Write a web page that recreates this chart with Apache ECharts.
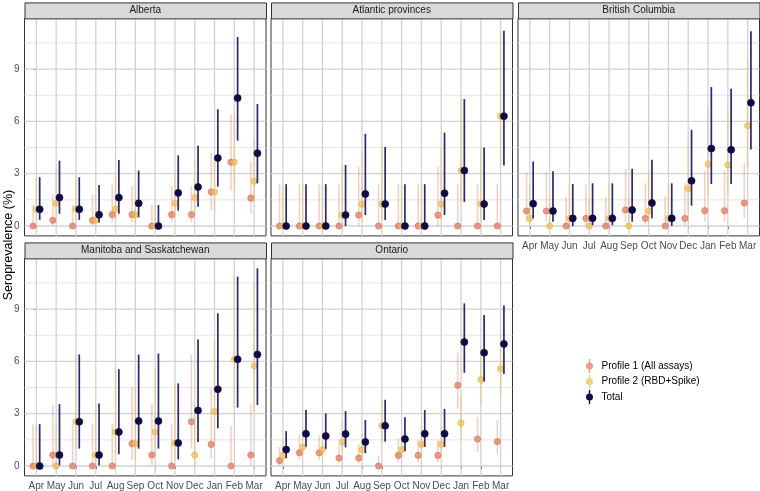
<!DOCTYPE html>
<html lang="en">
<head>
    <meta charset="UTF-8">
    <title>Seroprevalence</title>
    <style>
        html, body { margin: 0; padding: 0; background: #fff; }
        #main { width: 760px; height: 491px; }
    </style>
</head>
<body>
<div id="main"></div>
<script src="https://cdn.jsdelivr.net/npm/echarts@6/dist/echarts.min.js"></script>
<script>
    // months on the x axis
    const months = ['Apr', 'May', 'Jun', 'Jul', 'Aug', 'Sep', 'Oct', 'Nov', 'Dec', 'Jan', 'Feb', 'Mar'];
    const profiles = ['Profile 1 (All assays)', 'Profile 2 (RBD+Spike)', 'Total'];
    const yTicks = [0, 3, 6, 9];
    const yMinor = [1.5, 4.5, 7.5, 10.5];

    // each entry: [estimate, lower, upper] in %
    const albertaP1 = [[0,0,1.2],[0.33,0,1.8],[0,0,1.2],[0.33,0,1.8],[0.65,0.2,2.35],[0.65,0.2,2.3],
        [0,0,1.2],[0.65,0.2,2.3],[0.65,0.2,2.3],[1.95,0.9,4.2],[3.66,2.05,6.4],[1.6,0.7,3.7]];
    const albertaP2 = [[0.96,0.3,2.8],[1.3,0.5,3.3],[0.96,0.3,2.8],[0.33,0,1.8],[0.98,0.3,2.85],[0.65,0.2,2.3],
        [0,0,1.2],[1.3,0.5,3.2],[1.63,0.7,3.7],[1.95,0.85,4.0],[3.66,2.05,6.4],[2.57,1.35,5.0]];
    const albertaTotal = [[0.96,0.35,2.8],[1.63,0.7,3.75],[0.96,0.35,2.8],[0.65,0.2,2.35],[1.63,0.7,3.78],[1.3,0.5,3.18],
        [0,0,1.2],[1.9,0.88,4.05],[2.24,1.1,4.6],[3.9,2.26,6.7],[7.34,4.9,10.84],[4.18,2.45,7.0]];

    const atlanticP1 = [[0,0,2.4],[0,0,2.4],[0,0,2.4],[0,0,2.4],[0.63,0,3.4],[0,0,2.4],
        [0,0,2.4],[0,0,2.4],[0.63,0,3.4],[0,0,2.4],[0,0,2.4],[0,0,2.4]];
    const atlanticP2 = [[0,0,2.4],[0,0,2.4],[0,0,2.4],[0.63,0.02,3.54],[1.25,0.3,4.37],[1.26,0.35,4.5],
        [0,0,2.4],[0,0,2.4],[1.25,0.3,4.5],[3.18,1.38,7.28],[1.26,0.35,4.5],[6.3,3.5,11.23]];
    const atlanticTotal = [[0,0,2.4],[0,0,2.4],[0,0,2.4],[0.63,0,3.5],[1.84,0.63,5.29],[1.26,0.35,4.54],
        [0,0,2.4],[0,0,2.4],[1.88,0.63,5.35],[3.18,1.38,7.28],[1.26,0.35,4.5],[6.3,3.47,11.2]];

    const bcP1 = [[0.86,0.25,3.07],[0.86,0.25,3.12],[0,0,1.65],[0.44,0.05,2.4],[0,0,1.65],[0.92,0.25,3.28],
        [0.44,0.05,2.45],[0,0,1.7],[0.44,0.05,2.45],[0.88,0.25,3.18],[0.88,0.25,3.2],[1.32,0.45,3.6]];
    const bcP2 = [[0.44,0.05,2.4],[0,0,1.65],[0.44,0.05,2.4],[0,0,1.65],[0.44,0.05,2.45],[0,0,1.74],
        [0.86,0.2,3.1],[0.44,0.05,2.45],[2.15,0.85,4.94],[3.54,1.78,6.86],[3.5,1.8,6.82],[5.75,3.37,9.58]];
    const bcTotal = [[1.28,0.44,3.7],[0.86,0.25,3.14],[0.44,0,2.41],[0.44,0.05,2.45],[0.44,0.05,2.45],[0.92,0.25,3.28],
        [1.32,0.44,3.8],[0.44,0,2.45],[2.59,1.17,5.52],[4.44,2.41,7.97],[4.37,2.41,7.87],[7.07,4.39,11.17]];

    const manitobaP1 = [[0,0,2.39],[0.63,0,3.5],[0,0,2.4],[0,0,2.4],[0,0,2.4],[1.28,0.35,4.53],
        [0.63,0.05,3.55],[0,0,2.4],[2.54,1.0,6.4],[1.24,0.44,4.45],[0,0,2.29],[0.63,0.05,3.5]];
    const manitobaP2 = [[0,0,2.4],[0,0,2.4],[2.54,1.0,6.4],[0.63,0.05,3.55],[1.95,0.65,5.55],[1.28,0.35,4.53],
        [1.95,0.65,5.55],[1.32,0.35,4.74],[0.63,0.05,3.5],[3.13,1.3,7.13],[6.12,3.35,10.86],[5.75,3.06,10.57]];
    const manitobaTotal = [[0,0,2.4],[0.63,0.05,3.55],[2.54,1.0,6.4],[0.63,0.05,3.58],[1.95,0.67,5.55],[2.58,1.0,6.39],
        [2.58,1.0,6.45],[1.32,0.38,4.74],[3.19,1.38,7.25],[4.4,2.16,8.76],[6.12,3.35,10.86],[6.4,3.5,11.34]];

    const ontarioP1 = [[0.31,0.05,1.1],[0.76,0.34,1.78],[0.76,0.34,1.75],[0.46,0.15,1.2],[0.46,0.15,1.25],[0,0,0.6],
        [0.61,0.2,1.59],[0.61,0.2,1.5],[0.61,0.2,1.5],[4.63,3.27,6.5],[1.55,0.82,2.8],[1.4,0.69,2.64]];
    const ontarioP2 = [[0.61,0.2,1.5],[1.09,0.6,2.2],[0.94,0.5,1.95],[1.38,0.75,2.58],[0.94,0.45,1.85],[2.31,1.3,3.84],
        [0.94,0.45,1.85],[1.24,0.65,2.3],[1.24,0.65,2.3],[2.47,1.53,3.98],[4.95,3.5,6.88],[5.58,4.03,7.67]];
    const ontarioTotal = [[0.94,0.44,2.0],[1.85,1.11,3.21],[1.72,0.98,3.02],[1.84,1.07,3.15],[1.38,0.73,2.64],[2.31,1.4,3.8],
        [1.55,0.84,2.8],[1.85,1.1,3.21],[1.85,1.1,3.27],[7.11,5.35,9.33],[6.5,4.84,8.66],[7.0,5.28,9.2]];

    // facet layout (pixels)
    const PW = 241.5, PH = 217.5, STRIP = 16;
    const panels = [
        {name: 'Alberta', left: 24.5, top: 18.4, xLab: false, yLab: true, sets: [albertaP1, albertaP2, albertaTotal]},
        {name: 'Atlantic provinces', left: 271, top: 18.4, xLab: false, yLab: false, sets: [atlanticP1, atlanticP2, atlanticTotal]},
        {name: 'British Columbia', left: 518, top: 18.4, xLab: true, yLab: false, sets: [bcP1, bcP2, bcTotal]},
        {name: 'Manitoba and Saskatchewan', left: 24.5, top: 258.4, xLab: true, yLab: true, sets: [manitobaP1, manitobaP2, manitobaTotal]},
        {name: 'Ontario', left: 271, top: 258.4, xLab: true, yLab: false, sets: [ontarioP1, ontarioP2, ontarioTotal]}
    ];

    const FONT = 'Liberation Sans, Arial, Helvetica, sans-serif';
    const DODGE = [-1 / 6, 0, 1 / 6];
    const DOT = ['rgba(225,120,90,0.72)', 'rgba(240,190,80,0.72)', '#0e0b47'];
    const DOT_EDGE = ['rgba(215,105,75,0.85)', 'rgba(232,178,70,0.85)', '#0e0b47'];
    const LINE = ['rgba(225,120,90,0.35)', 'rgba(240,190,80,0.45)', '#2b2679'];
    const LINE_W = [1.6, 1.6, 1.7];
    const RAD = [3.1, 3.1, 3.5];
    const Y_MIN = -0.567, Y_MAX = 11.907;
    const GRID_MAJOR = '#d2d2d2', GRID_MINOR = '#e2e2e2';

    const grid = [], xAxis = [], yAxis = [], series = [];

    panels.forEach(function (p, gi) {
        grid.push({
            left: p.left, top: p.top, width: PW, height: PH,
            show: true, backgroundColor: 'transparent', borderColor: '#333333', borderWidth: 1
        });
        xAxis.push({
            type: 'value', gridIndex: gi, min: -0.6, max: 11.6,
            axisLine: {show: false},
            axisTick: {show: p.xLab, length: 3, lineStyle: {color: '#333333'}, customValues: months.map((m, i) => i)},
            axisLabel: {
                show: p.xLab, margin: 5, fontSize: 10, color: '#4d4d4d', fontFamily: FONT,
                customValues: months.map((m, i) => i),
                formatter: v => months[Math.round(v)]
            },
            splitLine: {show: false}
        });
        yAxis.push({
            type: 'value', gridIndex: gi, min: Y_MIN, max: Y_MAX,
            axisLine: {show: false},
            axisTick: {show: p.yLab, length: 3, lineStyle: {color: '#333333'}, customValues: yTicks},
            axisLabel: {
                show: p.yLab, margin: 5, fontSize: 10, color: '#4d4d4d', fontFamily: FONT,
                customValues: yTicks
            },
            splitLine: {show: false}
        });

        p.sets.forEach(function (set, k) {
            series.push({
                type: 'custom',
                name: profiles[k],
                xAxisIndex: gi,
                yAxisIndex: gi,
                z: 5,
                itemStyle: {color: DOT[k]},
                encode: {x: 0, y: [1, 2, 3]},
                data: set.map((d, i) => [i, d[0], d[1], d[2]]),
                renderItem: function (params, api) {
                    const x = api.value(0) + DODGE[k];
                    const hi = api.coord([x, api.value(3)]);
                    const lo = api.coord([x, api.value(2)]);
                    const mid = api.coord([x, api.value(1)]);
                    return {
                        type: 'group',
                        children: [
                            {type: 'line', shape: {x1: hi[0], y1: hi[1], x2: lo[0], y2: lo[1]},
                                style: {stroke: LINE[k], lineWidth: LINE_W[k]}},
                            {type: 'circle', shape: {cx: mid[0], cy: mid[1], r: RAD[k]},
                                style: {fill: DOT[k], stroke: DOT_EDGE[k], lineWidth: 0.7}}
                        ]
                    };
                }
            });
        });
    });

    const myChart = echarts.init(document.getElementById('main'));
    myChart.setOption({
        animation: false,
        backgroundColor: '#fff',
        grid: grid,
        xAxis: xAxis,
        yAxis: yAxis,
        legend: {
            orient: 'vertical', left: 581, top: 354,
            itemWidth: 14, itemHeight: 14, itemGap: 1.5,
            icon: 'path://M6.3,0H7.7V14H6.3Z M3.5,7A3.5,3.5,0,1,1,10.5,7A3.5,3.5,0,1,1,3.5,7Z',
            textStyle: {fontSize: 10, color: '#000', fontFamily: FONT},
            data: profiles
        },
        series: series
    });

    // gridlines, strips and title: positions taken from the axes via convertToPixel
    const elements = [];
    panels.forEach(function (p, gi) {
        const finder = {xAxisIndex: gi, yAxisIndex: gi};
        const y0 = p.top, y1 = p.top + PH, x0 = p.left, x1 = p.left + PW;
        const hLines = yMinor.map(v => [v, GRID_MINOR, 0.9]).concat(yTicks.map(v => [v, GRID_MAJOR, 1.3]));
        hLines.forEach(function (h) {
            const y = myChart.convertToPixel(finder, [0, h[0]])[1];
            elements.push({type: 'line', z: 1, silent: true,
                shape: {x1: x0, y1: y, x2: x1, y2: y}, style: {stroke: h[1], lineWidth: h[2]}});
        });
        months.forEach(function (m, i) {
            const x = myChart.convertToPixel(finder, [i, 0])[0];
            elements.push({type: 'line', z: 1, silent: true,
                shape: {x1: x, y1: y0, x2: x, y2: y1}, style: {stroke: GRID_MAJOR, lineWidth: 1.3}});
        });
        // facet strip
        elements.push({
            type: 'rect', z: 1, left: p.left, top: p.top - STRIP,
            shape: {width: PW, height: STRIP},
            style: {fill: '#d9d9d9', stroke: '#333333', lineWidth: 1}
        });
        elements.push({
            type: 'text', z: 2, x: p.left + PW / 2, y: p.top - STRIP / 2,
            style: {text: p.name, fill: '#1a1a1a', font: '10px ' + FONT, align: 'center', verticalAlign: 'middle'}
        });
    });

    // y axis title
    elements.push({
        type: 'text', z: 2, x: 9, y: 245, rotation: Math.PI / 2,
        style: {text: 'Seroprevalence (%)', fill: '#000', font: '12.5px ' + FONT, align: 'center', verticalAlign: 'middle'}
    });

    myChart.setOption({graphic: {elements: elements}});
</script>
</body>
</html>
